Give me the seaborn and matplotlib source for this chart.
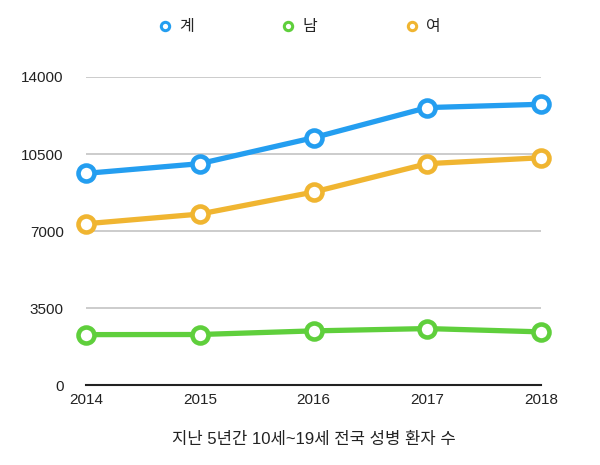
import matplotlib
matplotlib.use("Agg")
import matplotlib.pyplot as plt
from matplotlib.lines import Line2D
import seaborn as sns
import pandas as pd

years = [2014, 2015, 2016, 2017, 2018]
total = [9620, 10060, 11240, 12610, 12760]
male = [2290, 2295, 2460, 2565, 2415]
female = [7330, 7770, 8770, 10060, 10330]
series_names = ["계", "남", "여"]
yticks = [0, 3500, 7000, 10500, 14000]
xlabel = "지난 5년간 10세~19세 전국 성병 환자 수"

colors = {"계": "#249ef0", "남": "#5fcf3c", "여": "#f0b531"}

sns.set_style("white")
plt.rcParams['font.family'] = ['Liberation Sans', 'Noto Sans CJK KR', 'DejaVu Sans']

df = pd.DataFrame({
    "year": years * 3,
    "value": total + male + female,
    "series": ["계"] * 5 + ["남"] * 5 + ["여"] * 5,
})

fig = plt.figure(figsize=(6, 4.65), dpi=100)
ax = fig.add_axes([86 / 600, 1 - 385 / 465, (541 - 86) / 600, (385 - 77) / 465])

for name in ["남", "여", "계"]:
    sub = df[df["series"] == name]
    sns.lineplot(data=sub, x="year", y="value", ax=ax, color=colors[name],
                 linewidth=3.8, marker="o", markersize=11.5,
                 markerfacecolor="white", markeredgecolor=colors[name],
                 markeredgewidth=3.3, clip_on=False, zorder=3)

ax.set_xlim(2014, 2018)
ax.set_ylim(0, 14000)
ax.set_yticks(yticks)
ax.set_yticklabels([str(v) for v in yticks], fontsize=11)
ax.set_xticks(years)
ax.set_xticklabels([str(y) for y in years], fontsize=11)
ax.tick_params(axis="both", length=0, colors="#222222")
ax.tick_params(axis="y", pad=16)
ax.tick_params(axis="x", pad=6)
for y in yticks[1:]:
    ax.axhline(y, color="#c4c4c4", linewidth=1.2, zorder=1)
for s in ["top", "right", "left"]:
    ax.spines[s].set_visible(False)
ax.spines["bottom"].set_color("#222222")
ax.spines["bottom"].set_linewidth(1.5)
ax.set_ylabel("")
ax.set_xlabel(xlabel, fontsize=12, labelpad=18, color="#222222")

handles = [Line2D([], [], linestyle="none", marker="o", markersize=6,
                  markerfacecolor="white", markeredgecolor=colors[n],
                  markeredgewidth=2.2) for n in series_names]
fig.legend(handles, series_names, loc="center", ncol=3,
           bbox_to_anchor=(298 / 600, 1 - 27 / 465), frameon=False,
           fontsize=11.5, columnspacing=5.3, handletextpad=0.3,
           handlelength=1.2)

fig.savefig("out.png", dpi=100)
